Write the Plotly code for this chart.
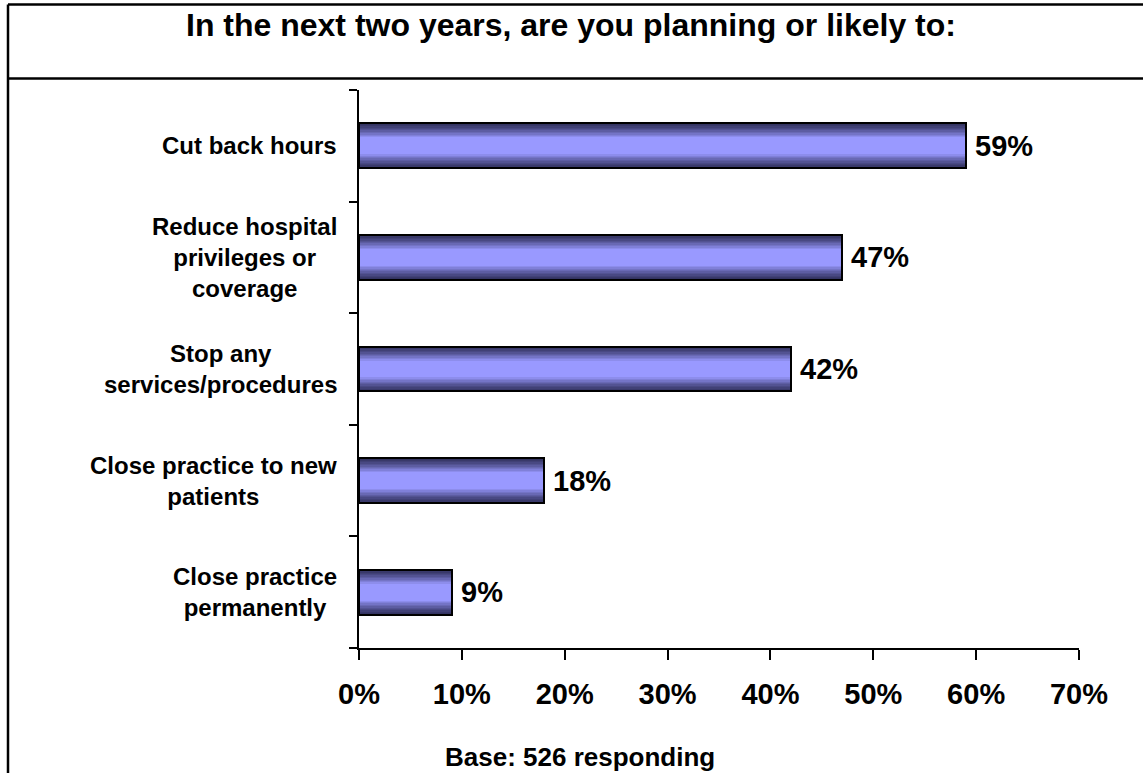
import plotly.graph_objects as go

# Survey responses: share planning each action in the next two years
categories = [
    "Cut back hours",
    "Reduce hospital<br>privileges or<br>coverage",
    "Stop any<br>services/procedures",
    "Close practice to new<br>patients",
    "Close practice<br>permanently",
]
values = [59, 47, 42, 18, 9]
x_ticks = [0, 10, 20, 30, 40, 50, 60, 70]
title_text = "In the next two years, are you planning or likely to:"
base_text = "Base: 526 responding"

FONT = "Arial, Liberation Sans, sans-serif"
BAR_W = 0.4
EDGE = (0x34, 0x34, 0x62)
MID = (0x99, 0x99, 0xff)

keys = list(range(len(categories)))
boundaries = [k - 0.5 for k in range(len(categories) + 1)]

fig = go.Figure()

# Layered bars of shrinking thickness give a vertical shaded fill
steps = 16
for k in range(steps):
    t = min(1.0, k / (steps * 0.62)) ** 1.3
    r, g, b = (round(e + (m - e) * t) for e, m in zip(EDGE, MID))
    fig.add_trace(go.Bar(
        x=values, y=keys, orientation="h",
        width=BAR_W * (1 - k / steps),
        marker=dict(color=f"rgb({r},{g},{b})", line=dict(width=0)),
        hoverinfo="skip", showlegend=False,
    ))

# Outline on top
fig.add_trace(go.Bar(
    x=values, y=keys, orientation="h", width=BAR_W,
    marker=dict(color="rgba(0,0,0,0)", line=dict(color="black", width=2)),
    showlegend=False,
))

annotations = []
for k, (cat, v) in enumerate(zip(categories, values)):
    annotations.append(dict(
        x=0, xref="paper", y=k, yref="y", text=f"<b>{cat}</b>", showarrow=False,
        xanchor="right", yanchor="middle", align="center", xshift=-20,
        font=dict(family=FONT, size=24, color="black"),
    ))
    annotations.append(dict(
        x=v, xref="x", y=k, yref="y", text=f"<b>{v}%</b>", showarrow=False,
        xanchor="left", yanchor="middle", xshift=7,
        font=dict(family=FONT, size=29, color="black"),
    ))

annotations.append(dict(
    x=0.295, xref="paper", y=1.1157, yref="paper", text=f"<b>{title_text}</b>",
    showarrow=False, xanchor="center", yanchor="middle",
    font=dict(family=FONT, size=32, color="black"),
))
annotations.append(dict(
    x=0.307, xref="paper", y=-0.1955, yref="paper", text=f"<b>{base_text}</b>",
    showarrow=False, xanchor="center", yanchor="middle",
    font=dict(family=FONT, size=26, color="black"),
))

# Frame around title and chart
shapes = [
    dict(type="line", xref="paper", yref="paper", x0=-0.4875, x1=1.2,
         y0=1.1534, y1=1.1534, line=dict(color="black", width=2.5)),
    dict(type="line", xref="paper", yref="paper", x0=-0.4875, x1=1.2,
         y0=1.0206, y1=1.0206, line=dict(color="black", width=2.5)),
    dict(type="line", xref="paper", yref="paper", x0=-0.4875, x1=-0.4875,
         y0=1.1534, y1=-0.3, line=dict(color="black", width=2.5)),
]

fig.update_layout(
    width=1143, height=773,
    margin=dict(l=359, r=64, t=90, b=125, pad=0),
    paper_bgcolor="white", plot_bgcolor="white",
    barmode="overlay", bargap=0,
    annotations=annotations, shapes=shapes,
    xaxis=dict(
        range=[0, 70], tickvals=x_ticks, ticktext=[f"<b>{t}%</b>" for t in x_ticks],
        showgrid=False, zeroline=False,
        showline=True, linecolor="black", linewidth=2,
        ticks="outside", ticklen=10, tickwidth=2, tickcolor="black",
        tickfont=dict(family=FONT, size=29, color="black"),
        ticklabelstandoff=9,
    ),
    yaxis=dict(
        range=[4.5, -0.5], tickmode="array", tickvals=boundaries,
        showticklabels=False, showgrid=False, zeroline=False,
        showline=True, linecolor="black", linewidth=2,
        ticks="outside", ticklen=8, tickwidth=2, tickcolor="black",
        type="linear",
    ),
)

fig.write_html("out.html")
